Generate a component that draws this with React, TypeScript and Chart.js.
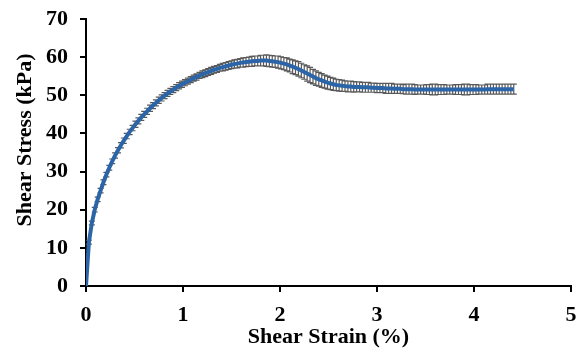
import React, { useEffect, useRef } from "react";
import { Chart, registerables } from "chart.js";

Chart.register(...registerables);

const X_TITLE = "Shear Strain (%)";
const Y_TITLE = "Shear Stress (kPa)";

const strain = [
  0, 0.03, 0.06, 0.09, 0.12, 0.15, 0.18, 0.21, 0.24, 0.27,
  0.30, 0.33, 0.36, 0.39, 0.42, 0.45, 0.48, 0.51, 0.54, 0.57,
  0.60, 0.63, 0.66, 0.69, 0.72, 0.75, 0.78, 0.81, 0.84, 0.87,
  0.90, 0.93, 0.96, 0.99, 1.02, 1.05, 1.08, 1.11, 1.14, 1.17,
  1.20, 1.23, 1.26, 1.29, 1.32, 1.35, 1.38, 1.41, 1.44, 1.47,
  1.50, 1.53, 1.56, 1.59, 1.62, 1.65, 1.68, 1.71, 1.74, 1.77,
  1.80, 1.83, 1.86, 1.89, 1.92, 1.95, 1.98, 2.01, 2.04, 2.07,
  2.10, 2.13, 2.16, 2.19, 2.22, 2.25, 2.28, 2.31, 2.34, 2.37,
  2.40, 2.43, 2.46, 2.49, 2.52, 2.55, 2.58, 2.61, 2.64, 2.67,
  2.70, 2.73, 2.76, 2.79, 2.82, 2.85, 2.88, 2.91, 2.94, 2.97,
  3.00, 3.03, 3.06, 3.09, 3.12, 3.15, 3.18, 3.21, 3.24, 3.27,
  3.30, 3.33, 3.36, 3.39, 3.42, 3.45, 3.48, 3.51, 3.54, 3.57,
  3.60, 3.63, 3.66, 3.69, 3.72, 3.75, 3.78, 3.81, 3.84, 3.87,
  3.90, 3.93, 3.96, 3.99, 4.02, 4.05, 4.08, 4.11, 4.14, 4.17,
  4.20, 4.23, 4.26, 4.29, 4.32, 4.35, 4.38, 4.41,
];

const stress = [
  0, 11.5, 16.5, 20.0, 22.7, 25.0, 27.2, 29.2, 31.0, 32.7,
  34.2, 35.6, 36.9, 38.1, 39.3, 40.4, 41.4, 42.4, 43.3, 44.2,
  45.0, 45.8, 46.6, 47.3, 48.0, 48.7, 49.3, 49.9, 50.5, 51.0,
  51.5, 52.0, 52.5, 52.9, 53.3, 53.7, 54.1, 54.5, 54.8, 55.2,
  55.5, 55.8, 56.1, 56.4, 56.7, 56.9, 57.2, 57.4, 57.6, 57.8,
  58.0, 58.2, 58.3, 58.5, 58.6, 58.7, 58.8, 58.9, 59.0, 59.0,
  59.1, 59.1, 59.1, 59.0, 58.9, 58.8, 58.7, 58.5, 58.3, 58.1,
  57.8, 57.5, 57.2, 56.9, 56.5, 56.1, 55.7, 55.3, 54.9, 54.5,
  54.2, 53.9, 53.6, 53.3, 53.1, 52.9, 52.7, 52.6, 52.5, 52.4,
  52.3, 52.3, 52.2, 52.2, 52.2, 52.1, 52.1, 52.1, 52.0, 52.0,
  51.9, 51.9, 51.9, 51.8, 51.8, 51.8, 51.7, 51.7, 51.7, 51.6,
  51.6, 51.6, 51.6, 51.5, 51.5, 51.5, 51.5, 51.5, 51.5, 51.5,
  51.5, 51.5, 51.5, 51.5, 51.5, 51.5, 51.5, 51.5, 51.5, 51.5,
  51.5, 51.5, 51.5, 51.5, 51.5, 51.5, 51.5, 51.5, 51.6, 51.6,
  51.6, 51.6, 51.6, 51.6, 51.6, 51.6, 51.6, 51.6,
];

const stressErr = [
  0, 0.5, 0.5, 0.6, 0.6, 0.6, 0.6, 0.6, 0.6, 0.6,
  0.7, 0.7, 0.7, 0.7, 0.7, 0.7, 0.7, 0.8, 0.8, 0.8,
  0.8, 0.8, 0.8, 0.8, 0.8, 0.8, 0.8, 0.8, 0.8, 0.8,
  0.8, 0.8, 0.8, 0.8, 0.8, 0.8, 0.8, 0.8, 0.8, 0.8,
  0.9, 0.9, 0.9, 0.9, 0.9, 0.9, 0.9, 1.0, 1.0, 1.0,
  1.0, 1.1, 1.1, 1.1, 1.2, 1.2, 1.2, 1.3, 1.3, 1.3,
  1.4, 1.4, 1.5, 1.5, 1.5, 1.5, 1.6, 1.6, 1.6, 1.7,
  1.7, 1.8, 1.8, 1.9, 1.9, 1.9, 2.0, 2.0, 1.9, 1.9,
  1.8, 1.8, 1.7, 1.7, 1.6, 1.6, 1.5, 1.5, 1.5, 1.4,
  1.4, 1.4, 1.4, 1.3, 1.3, 1.3, 1.3, 1.3, 1.2, 1.2,
  1.2, 1.2, 1.2, 1.3, 1.3, 1.3, 1.2, 1.2, 1.2, 1.2,
  1.3, 1.3, 1.3, 1.3, 1.2, 1.2, 1.2, 1.3, 1.3, 1.4,
  1.4, 1.3, 1.3, 1.3, 1.2, 1.2, 1.2, 1.3, 1.3, 1.3,
  1.4, 1.4, 1.3, 1.3, 1.3, 1.2, 1.2, 1.2, 1.3, 1.3,
  1.3, 1.3, 1.3, 1.3, 1.3, 1.3, 1.3, 1.3,
];

const FONT_FAMILY = '"Liberation Serif", "Times New Roman", serif';

export default function App() {
  const ref = useRef<HTMLCanvasElement>(null);

  useEffect(() => {
    if (!ref.current) return;

    const errorBars = {
      id: "errorBars",
      beforeDatasetsDraw(chart: any) {
        const { ctx } = chart;
        const x = chart.scales.x;
        const y = chart.scales.y;
        ctx.save();
        ctx.strokeStyle = "#595959";
        ctx.lineWidth = 1.2;
        ctx.beginPath();
        strain.forEach((sx, i) => {
          const e = stressErr[i];
          if (!e) return;
          const px = x.getPixelForValue(sx);
          const top = y.getPixelForValue(stress[i] + e);
          const bot = y.getPixelForValue(stress[i] - e);
          ctx.moveTo(px, top);
          ctx.lineTo(px, bot);
          ctx.moveTo(px - 3, top);
          ctx.lineTo(px + 3, top);
          ctx.moveTo(px - 3, bot);
          ctx.lineTo(px + 3, bot);
        });
        ctx.stroke();
        ctx.restore();
      },
    };

    const axisTitles = {
      id: "axisTitles",
      afterDraw(chart: any) {
        const { ctx, chartArea } = chart;
        ctx.save();
        ctx.font = `bold 22px ${FONT_FAMILY}`;
        ctx.fillStyle = "#000";
        ctx.textAlign = "center";
        ctx.textBaseline = "middle";
        ctx.fillText(X_TITLE, (chartArea.left + chartArea.right) / 2, chartArea.bottom + 51);
        ctx.translate(25, chartArea.top + 121);
        ctx.rotate(-Math.PI / 2);
        ctx.fillText(Y_TITLE, 0, 0);
        ctx.restore();
      },
    };

    const tickFont = { family: FONT_FAMILY, size: 22, weight: "bold" as const };

    const chart = new Chart(ref.current, {
      type: "line",
      data: {
        datasets: [
          {
            data: strain.map((sx, i) => ({ x: sx, y: stress[i] })),
            borderColor: "#2B65A8",
            borderWidth: 4,
            pointRadius: 0,
            tension: 0,
            fill: false,
          },
        ],
      },
      options: {
        animation: false,
        responsive: false,
        layout: { padding: { top: 19, right: 8, left: 0, bottom: 0 } },
        plugins: {
          legend: { display: false },
          tooltip: { enabled: false },
        },
        scales: {
          x: {
            type: "linear",
            min: 0,
            max: 5,
            ticks: { stepSize: 1, color: "#000", font: tickFont, padding: 10, maxRotation: 0 },
            grid: { display: true, drawOnChartArea: false, drawTicks: true, tickLength: 6, color: "#000", lineWidth: 2 },
            border: { display: true, color: "#000", width: 2 },
            afterFit: (s: any) => {
              s.height = 63;
              s.paddingLeft = 0;
              s.paddingRight = 0;
            },
          },
          y: {
            type: "linear",
            min: 0,
            max: 70,
            ticks: { stepSize: 10, color: "#000", font: tickFont, padding: 12 },
            grid: { display: true, drawOnChartArea: false, drawTicks: true, tickLength: 6, color: "#000", lineWidth: 2 },
            border: { display: true, color: "#000", width: 2 },
            afterFit: (s: any) => {
              s.width = 86;
              s.paddingTop = 0;
              s.paddingBottom = 0;
            },
          },
        },
      },
      plugins: [errorBars, axisTitles],
    });

    return () => chart.destroy();
  }, []);

  return (
    <div style={{ position: "fixed", left: 0, top: 0, width: 579, height: 349, background: "#fff" }}>
      <canvas ref={ref} width={579} height={349} style={{ display: "block" }} />
    </div>
  );
}
